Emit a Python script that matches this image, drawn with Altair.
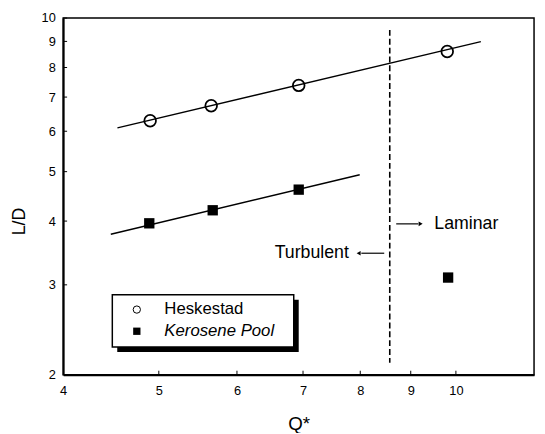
import altair as alt
import pandas as pd

# ---- data ----
hesk_q = [4.90, 5.65, 6.93, 9.80]
hesk_ld = [6.29, 6.73, 7.38, 8.60]
kero_q = [4.89, 5.67, 6.93, 9.82]
kero_ld = [3.96, 4.20, 4.61, 3.10]
fit_hesk_q = [4.54, 10.6]
fit_hesk_ld = [6.09, 8.99]
fit_kero_q = [4.47, 7.99]
fit_kero_ld = [3.77, 4.93]
transition_q = [8.57]
transition_ld = [9.48, 2.11]
x_ticks = [4, 5, 6, 7, 8, 9, 10]
y_ticks = [2, 3, 4, 5, 6, 7, 8, 9, 10]
labels = ["Laminar", "Turbulent"]
label_q = [9.51, 7.79]
label_ld = [3.95, 3.46]
arrow_q_start = [8.70, 8.46]
arrow_q_end = [9.16, 8.02]
arrow_head_q = [9.21, 7.97]
legend_names = ["Heskestad", "Kerosene Pool"]
legend_sym_q = [4.75, 4.75]
legend_text_q = [5.065, 5.065]
legend_ld = [2.683, 2.433]
legend_box_q = [4.486, 6.85]
legend_box_ld = [2.868, 2.266]
legend_shadow_q = [4.538, 6.93]
legend_shadow_ld = [2.805, 2.216]

FONT = "Liberation Sans"

xs = alt.Scale(type="log", domain=[4, 12], nice=False)
ys = alt.Scale(type="log", domain=[2, 10], nice=False)
xaxis = alt.Axis(values=x_ticks, format="d", ticks=False, grid=False,
                 labelFontSize=13, labelPadding=10, domainWidth=2,
                 title="Q*", titleFontSize=19, titleFontWeight="normal",
                 titleY=50, titleBaseline="middle", labelFlush=False)
yaxis = alt.Axis(values=y_ticks, format="d", ticks=False, grid=False,
                 labelFontSize=13, labelPadding=8, domainWidth=2,
                 title="L/D", titleFontSize=18, titleFontWeight="normal",
                 titleX=-44, titleY=206, titleAngle=270,
                 titleAlign="center", titleBaseline="middle")


def X(f="q"):
    return alt.X(f, type="quantitative", scale=xs, axis=xaxis)


def Y(f="ld"):
    return alt.Y(f, type="quantitative", scale=ys, axis=yaxis)


hesk = pd.DataFrame({"q": hesk_q, "ld": hesk_ld})
kero = pd.DataFrame({"q": kero_q, "ld": kero_ld})
fits = pd.DataFrame({
    "q": fit_hesk_q + fit_kero_q,
    "ld": fit_hesk_ld + fit_kero_ld,
    "s": ["h", "h", "k", "k"],
})
trans = pd.DataFrame({"q": transition_q, "ld": [transition_ld[0]], "ld2": [transition_ld[1]]})
texts = pd.DataFrame({"q": label_q, "ld": label_ld, "t": labels})
arrows = pd.DataFrame({"q": arrow_q_start, "q2": arrow_q_end, "ld": label_ld})
heads = pd.DataFrame({"q": arrow_head_q, "ld": label_ld, "shape": ["triangle-right", "triangle-left"]})
leg_sym = pd.DataFrame({"q": legend_sym_q, "ld": legend_ld, "n": legend_names})
leg_txt = pd.DataFrame({"q": legend_text_q, "ld": legend_ld, "n": legend_names})
leg_box = pd.DataFrame({"q": [legend_box_q[0]], "q2": [legend_box_q[1]],
                        "ld": [legend_box_ld[0]], "ld2": [legend_box_ld[1]]})
leg_shadow = pd.DataFrame({"q": [legend_shadow_q[0]], "q2": [legend_shadow_q[1]],
                           "ld": [legend_shadow_ld[0]], "ld2": [legend_shadow_ld[1]]})
xt = pd.DataFrame({"q": x_ticks[1:], "ld": [2] * (len(x_ticks) - 1)})
yt = pd.DataFrame({"q": [4] * (len(y_ticks) - 1), "ld": y_ticks[1:]})

shadow = alt.Chart(leg_shadow).mark_rect(color="black").encode(
    x=X(), x2="q2", y=Y(), y2="ld2")
box = alt.Chart(leg_box).mark_rect(fill="white", stroke="black", strokeWidth=1.5).encode(
    x=X(), x2="q2", y=Y(), y2="ld2")
lines = alt.Chart(fits).mark_line(color="black", strokeWidth=1.4).encode(
    x=X(), y=Y(), detail="s:N")
circles = alt.Chart(hesk).mark_point(shape="circle", filled=False, color="black",
                                     strokeWidth=1.8, size=140, opacity=1).encode(x=X(), y=Y())
squares = alt.Chart(kero).mark_square(color="black", size=110, opacity=1).encode(x=X(), y=Y())
rule = alt.Chart(trans).mark_rule(color="black", strokeWidth=1.6, strokeDash=[6, 3]).encode(
    x=X(), y=Y(), y2="ld2")
arrow_lines = alt.Chart(arrows).mark_rule(color="black", strokeWidth=1.2).encode(
    x=X(), x2="q2", y=Y())
arrow_heads = alt.Chart(heads).mark_point(filled=True, color="black", size=22, opacity=1).encode(
    x=X(), y=Y(), shape=alt.Shape("shape:N", scale=None))
lab_l = alt.Chart(texts[texts.t == "Laminar"]).mark_text(
    align="left", baseline="middle", fontSize=18, font=FONT, color="black").encode(
    x=X(), y=Y(), text="t:N")
lab_t = alt.Chart(texts[texts.t == "Turbulent"]).mark_text(
    align="right", baseline="middle", fontSize=18, font=FONT, color="black").encode(
    x=X(), y=Y(), text="t:N")
leg_c = alt.Chart(leg_sym[leg_sym.n == "Heskestad"]).mark_point(
    shape="circle", filled=False, color="black", strokeWidth=1, size=55, opacity=1).encode(x=X(), y=Y())
leg_s = alt.Chart(leg_sym[leg_sym.n == "Kerosene Pool"]).mark_square(
    color="black", size=55, opacity=1).encode(x=X(), y=Y())
leg_t1 = alt.Chart(leg_txt[leg_txt.n == "Heskestad"]).mark_text(
    align="left", baseline="middle", fontSize=17, font=FONT, color="black").encode(
    x=X(), y=Y(), text="n:N")
leg_t2 = alt.Chart(leg_txt[leg_txt.n == "Kerosene Pool"]).mark_text(
    align="left", baseline="middle", fontSize=17, font=FONT, fontStyle="italic", color="black").encode(
    x=X(), y=Y(), text="n:N")
xticks = alt.Chart(xt).mark_rule(color="black", strokeWidth=1).encode(
    x=X(), y=alt.value(362), y2=alt.value(358))
yticks = alt.Chart(yt).mark_rule(color="black", strokeWidth=1).encode(
    y=Y(), x=alt.value(0), x2=alt.value(4))

chart = alt.layer(
    shadow, box, lines, rule, arrow_lines, arrow_heads, circles, squares,
    lab_l, lab_t, leg_c, leg_s, leg_t1, leg_t2, xticks, yticks
).properties(
    width=478, height=362,
    autosize=alt.AutoSizeParams(type="none"),
    padding={"left": 56, "top": 7, "right": 3, "bottom": 56},
    background="white",
).configure_view(
    stroke="black", strokeWidth=1.5
).configure_axis(
    labelFont=FONT, titleFont=FONT, labelColor="black", titleColor="black",
    domainColor="black"
)

chart.save("out.html", embed_options={"renderer": "svg", "actions": False})
